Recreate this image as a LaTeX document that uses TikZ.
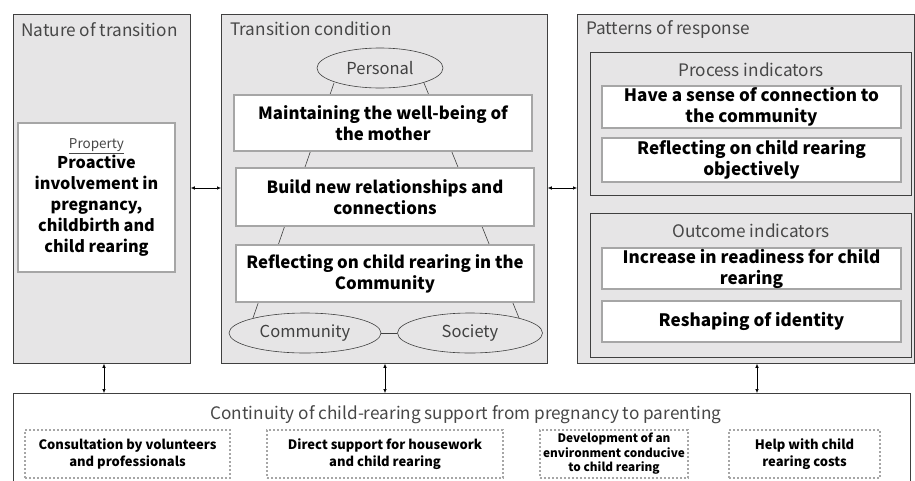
\documentclass[tikz,border=0pt]{standalone}
\usepackage{fontspec}
\setmainfont{Noto Sans CJK JP}
\usetikzlibrary{shapes.geometric,arrows.meta}
\definecolor{panelgray}{HTML}{E6E5E6}
\definecolor{edgegray}{HTML}{A6A6A6}
\definecolor{linegray}{HTML}{404040}
\tikzset{
  panel/.style={draw=linegray, fill=panelgray, line width=0.8pt, anchor=north west, inner sep=0pt},
  wbox/.style={draw=edgegray, fill=white, line width=2.4pt, align=center, inner sep=0pt,
    font=\bfseries\fontsize{16.8}{21}\selectfont},
  rbox/.style={wbox, font=\bfseries\fontsize{17.1}{21}\selectfont},
  ell/.style={ellipse, draw=linegray, fill=panelgray, line width=0.6pt, inner sep=0pt,
    font=\fontsize{16.5}{19}\selectfont, text=black!75},
  dbox/.style={draw=edgegray, dotted, line width=2pt, align=center, inner sep=0pt,
    font=\bfseries\fontsize{13}{16.5}\selectfont},
  ttl/.style={font=\fontsize{17.2}{20}\selectfont, text=black!72, inner sep=0pt},
  arr/.style={{Latex[length=4pt,width=3.5pt]}-{Latex[length=4pt,width=3.5pt]}, line width=0.6pt},
  trap/.style={draw=linegray, line width=0.6pt}
}
\newcommand{\proplabel}{{\mdseries\fontsize{13.5}{16}\selectfont\color{black!72}\underline{Property}}}
\begin{document}
\begin{tikzpicture}[x=1pt,y=-1pt]
\useasboundingbox (0,0) rectangle (915,480);
% panels
\node[panel, minimum width=177, minimum height=349] (left) at (13,14) {};
\node[panel, minimum width=326, minimum height=349] (mid) at (221,14) {};
\node[panel, minimum width=337, minimum height=349] (right) at (577,14) {};
\node[panel, minimum width=321, minimum height=143] (proc) at (590,52) {};
\node[panel, minimum width=321, minimum height=144] (outc) at (590,213) {};
\node[panel, fill=white, minimum width=897, minimum height=100] (bottom) at (13,393) {};
% titles
\node[ttl, anchor=west] (t1) at (21,30) {Nature of transition};
\node[ttl, anchor=west] (t2) at (230,29) {Transition condition};
\node[ttl, anchor=west] (t3) at (586,30) {Patterns of response};
\node[ttl] (t4) at (751,70) {Process indicators};
\node[ttl] (t5) at (751,231) {Outcome indicators};
\node[ttl] (t6) at (466,415) {Continuity of child-rearing support from pregnancy to parenting};
% trapezoid lines
\coordinate (pl) at (334,83);
\coordinate (pr) at (424,83);
\coordinate (cl) at (253,318);
\coordinate (sr) at (519,318);
\draw[trap] (pl) -- (cl);
\draw[trap] (pr) -- (sr);
% ellipses
\node[ell, minimum width=126, minimum height=40] (personal) at (380,68) {Personal};
\node[ell, minimum width=152, minimum height=40] (community) at (305,333) {Community};
\node[ell, minimum width=145, minimum height=40] (society) at (470,333) {Society};
\draw[trap] (community) -- (society);
% middle boxes
\node[wbox, minimum width=298, minimum height=56] (m1) at (383,123) {Maintaining the well-being of\\the mother};
\node[wbox, minimum width=298, minimum height=58] (m2) at (385,197) {Build new relationships and\\connections};
\node[wbox, minimum width=298, minimum height=57] (m3) at (385,273.5) {Reflecting on child rearing in the\\Community};
% property box
\node[wbox, minimum width=157, minimum height=149, font=\bfseries\fontsize{16.2}{21}\selectfont] (prop) at (96.5,197.5)
  {\proplabel\\[-1pt]Proactive\\involvement in\\pregnancy,\\childbirth and\\child rearing};
% right boxes
\node[rbox, minimum width=299, minimum height=42] (r1) at (751.5,107) {Have a sense of connection to\\the community};
\node[rbox, minimum width=299, minimum height=44] (r2) at (751.5,160) {Reflecting on child rearing\\objectively};
\node[rbox, minimum width=299, minimum height=41] (r3) at (751.5,268.5) {Increase in readiness for child\\rearing};
\node[rbox, minimum width=299, minimum height=41] (r4) at (751.5,321.5) {Reshaping of identity};
% dotted boxes
\node[dbox, minimum width=205, minimum height=48] (d1) at (127.5,454) {Consultation by volunteers\\and professionals};
\node[dbox, minimum width=236, minimum height=48] (d2) at (385,454) {Direct support for housework\\and child rearing};
\node[dbox, minimum width=148, minimum height=48, font=\bfseries\fontsize{11.8}{14.5}\selectfont] (d3) at (614,454) {Development of an\\environment conducive\\to child rearing};
\node[dbox, minimum width=151, minimum height=48] (d4) at (804.5,454) {Help with child\\rearing costs};
% arrows
\draw[arr] (left.east |- 0,188) -- (mid.west |- 0,188);
\draw[arr] (mid.east |- 0,188) -- (right.west |- 0,188);
\draw[arr] (left.south -| 104,0) -- (bottom.north -| 104,0);
\draw[arr] (mid.south -| 385,0) -- (bottom.north -| 385,0);
\draw[arr] (right.south -| 757,0) -- (bottom.north -| 757,0);
\end{tikzpicture}
\end{document}
